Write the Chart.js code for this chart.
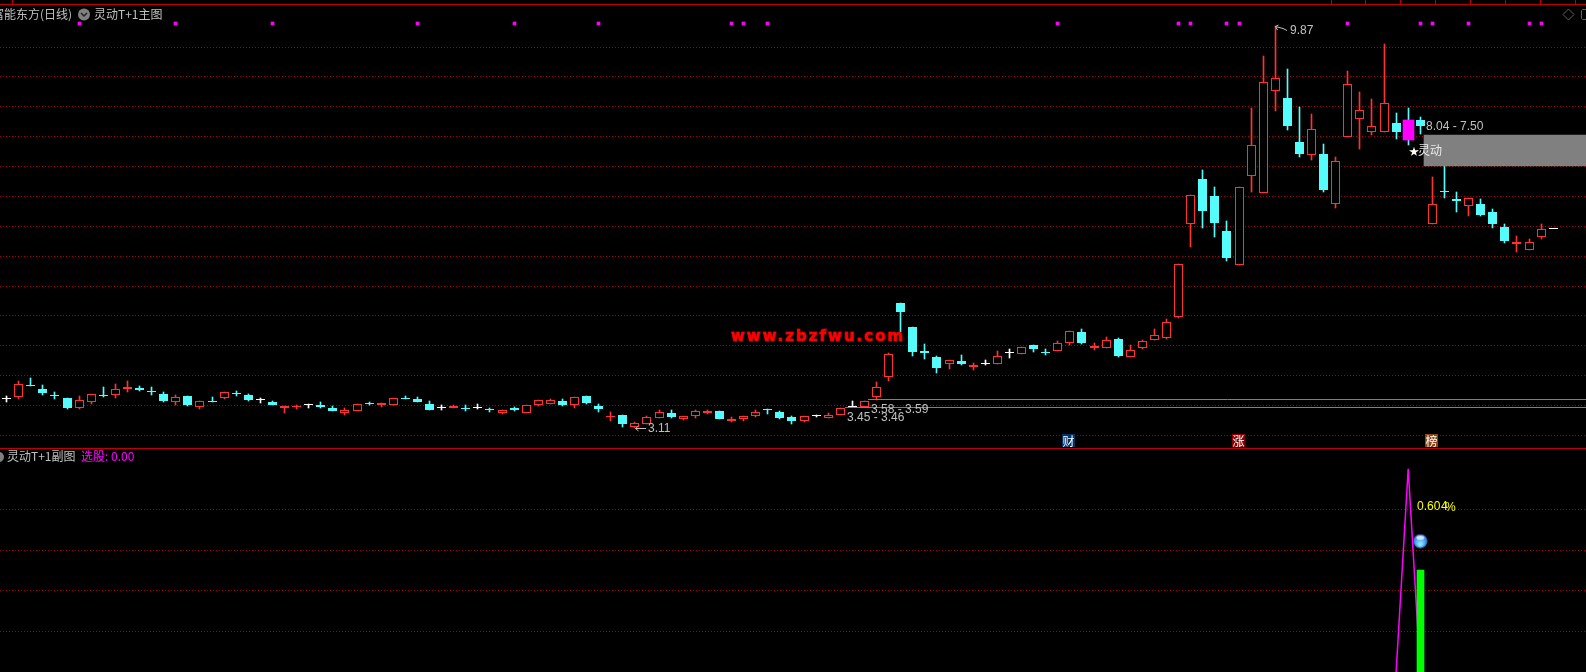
<!DOCTYPE html>
<html>
<head>
<meta charset="utf-8">
<title>灵动T+1</title>
<script src="https://cdn.jsdelivr.net/npm/chart.js@4"></script>
<style>
    html, body { margin: 0; background: #000; overflow: hidden; }
    canvas { display: block; }
</style>
</head>
<body>
<canvas id="kline" width="1586" height="672"></canvas>
<script>
// daily candles
const opens = [3.60,3.64,3.83,3.77,3.67,3.62,3.44,3.54,3.67,3.66,3.77,3.78,3.72,3.68,3.55,3.65,3.47,3.56,3.62,3.70,3.67,3.58,3.55,3.45,3.46,3.49,3.49,3.45,3.37,3.39,3.52,3.50,3.49,3.62,3.60,3.51,3.45,3.45,3.45,3.44,3.42,3.37,3.44,3.37,3.50,3.52,3.56,3.49,3.65,3.48,3.30,3.33,3.12,3.18,3.28,3.36,3.27,3.32,3.37,3.40,3.23,3.27,3.32,3.42,3.38,3.30,3.23,3.31,3.28,3.33,3.46,3.47,3.64,3.97,5.21,4.81,4.41,4.31,4.18,4.24,4.14,4.18,4.18,4.37,4.35,4.51,4.39,4.41,4.55,4.73,4.46,4.46,4.61,4.31,4.46,4.60,4.63,4.98,6.54,7.30,7.02,6.42,5.85,7.36,7.06,8.78,8.67,7.92,7.71,7.72,6.88,8.01,8.31,8.10,8.10,8.24,8.29,8.29,6.55,7.10,6.96,6.84,6.88,6.74,6.50,6.21,6.11,6.32,6.46];
const highs = [3.65,3.90,3.95,3.83,3.72,3.62,3.65,3.68,3.80,3.85,3.90,3.82,3.80,3.71,3.67,3.65,3.57,3.63,3.71,3.73,3.68,3.61,3.56,3.48,3.50,3.52,3.55,3.48,3.45,3.51,3.55,3.53,3.61,3.65,3.63,3.56,3.49,3.49,3.50,3.51,3.45,3.42,3.47,3.49,3.59,3.60,3.60,3.64,3.65,3.51,3.38,3.33,3.21,3.31,3.41,3.41,3.32,3.41,3.41,3.40,3.29,3.32,3.42,3.43,3.40,3.31,3.32,3.33,3.36,3.45,3.56,3.56,3.88,4.37,5.21,4.81,4.52,4.32,4.25,4.34,4.20,4.25,4.41,4.44,4.47,4.51,4.44,4.57,4.74,4.77,4.54,4.64,4.63,4.50,4.59,4.77,4.95,5.87,7.04,7.45,7.17,6.60,7.16,8.50,9.38,9.87,9.15,8.51,8.40,7.89,7.67,9.12,8.76,8.65,9.57,8.41,8.50,8.35,7.34,7.52,7.08,6.98,6.96,6.79,6.54,6.34,6.29,6.54,6.46];
const lows = [3.55,3.60,3.81,3.67,3.60,3.43,3.43,3.51,3.64,3.62,3.72,3.74,3.67,3.55,3.50,3.48,3.43,3.54,3.60,3.65,3.57,3.53,3.50,3.36,3.43,3.45,3.45,3.40,3.33,3.39,3.49,3.46,3.49,3.60,3.55,3.41,3.41,3.45,3.39,3.43,3.38,3.35,3.39,3.37,3.48,3.51,3.48,3.45,3.51,3.38,3.23,3.13,3.11,3.18,3.28,3.28,3.25,3.28,3.35,3.26,3.22,3.23,3.30,3.35,3.26,3.18,3.21,3.30,3.28,3.33,3.46,3.47,3.59,3.91,4.72,4.32,4.27,4.04,4.10,4.17,4.09,4.17,4.18,4.29,4.35,4.39,4.34,4.41,4.50,4.53,4.42,4.46,4.31,4.31,4.44,4.60,4.61,4.96,6.16,6.48,6.33,5.93,5.85,7.08,7.06,8.44,8.12,7.68,7.63,7.09,6.82,8.01,7.80,8.05,8.10,7.98,7.88,8.06,6.55,6.99,6.74,6.68,6.68,6.48,6.22,6.08,6.11,6.29,6.46];
const closes = [3.60,3.85,3.82,3.70,3.65,3.45,3.59,3.68,3.65,3.76,3.80,3.75,3.71,3.56,3.64,3.50,3.56,3.55,3.71,3.69,3.58,3.58,3.50,3.48,3.48,3.49,3.46,3.40,3.41,3.51,3.51,3.53,3.61,3.60,3.55,3.41,3.45,3.48,3.43,3.44,3.41,3.42,3.42,3.49,3.59,3.58,3.50,3.64,3.53,3.43,3.32,3.18,3.19,3.29,3.38,3.30,3.32,3.40,3.40,3.26,3.27,3.32,3.38,3.41,3.28,3.23,3.32,3.31,3.33,3.45,3.46,3.56,3.80,4.35,5.07,4.39,4.38,4.12,4.25,4.19,4.17,4.18,4.33,4.37,4.47,4.44,4.38,4.55,4.74,4.54,4.49,4.60,4.32,4.43,4.57,4.67,4.89,5.87,7.04,6.77,6.57,5.98,7.16,7.87,8.93,9.01,8.20,7.73,8.15,7.12,7.60,8.90,8.46,8.19,8.59,8.10,7.96,8.20,6.88,7.08,6.94,6.98,6.69,6.55,6.26,6.24,6.25,6.46,6.46];

const signalDays = [6,14,22,34,42,49,60,61,63,87,97,98,101,102,111,117,118,121,126,127];
const signalBand = [9.895, 9.946];
const starDay = 116;

// price levels marked on the chart
const supportHigh = [3.59, 71.3];
const supportLow = [3.46, 69.4];
const zoneBand = [7.52, 8.04];
const zoneDay = 124;
const gridPrices = [2.99,3.49,3.99,4.50,5.00,5.50,6.00,6.51,7.01,7.51,8.01,8.52,9.02,9.52];

// lower pane
const pickDays = [115,116,117];
const pickValues = [0,1,0];
const volDay = 117;
const volValue = 0.5;
const ballDay = 117;
const ballValue = 0.644;
const lowerGrid = [0.2,0.4,0.6,0.8];

const RED = '#FF3232';
const CYAN = '#54FCFC';
const WHITE = '#FFFFFF';
const MAGENTA = '#FF00FF';
const LINE_RED = '#C00000';
const TEXT = '#C0C0C0';
const LATIN = '"Liberation Sans", sans-serif';
const CJK = '"Noto Sans CJK SC", sans-serif';

const days = opens.map((_, i) => i);
const candleColor = days.map(i => closes[i] > opens[i] ? RED : closes[i] < opens[i] ? CYAN : WHITE);
const candleFill = days.map(i => closes[i] > opens[i] ? '#000000' : candleColor[i]);

// round sphere used as the point image in the lower pane
function makeBall() {
    const c = document.createElement('canvas');
    c.width = 15; c.height = 15;
    const g = c.getContext('2d');
    const body = g.createRadialGradient(7.5, 11, 1, 7.5, 7.5, 7.5);
    body.addColorStop(0, '#8FE8FF');
    body.addColorStop(0.55, '#4FA6F0');
    body.addColorStop(1, '#2A62C8');
    g.fillStyle = body;
    g.beginPath(); g.arc(7.5, 7.5, 7, 0, Math.PI * 2); g.fill();
    g.fillStyle = 'rgba(235,245,255,0.85)';
    g.beginPath(); g.ellipse(7.5, 4, 4, 2, 0, 0, Math.PI * 2); g.fill();
    return c;
}

// bars and level lines land on whole pixels, like the terminal draws them
const snapPlugin = {
    id: 'snap',
    afterDatasetsUpdate(chart) {
        chart.getSortedVisibleDatasetMetas().forEach(meta => {
            meta.data.forEach(el => {
                if (meta.type === 'bar') {
                    el.x = el.width % 2 === 1 ? Math.floor(el.x) + 0.5 : Math.round(el.x);
                    const top = Math.round(el.y);
                    let bottom = Math.round(el.base);
                    if (top === bottom) bottom = top + 1;
                    el.y = top;
                    el.base = bottom;
                } else if (chart.data.datasets[meta.index].snapY) {
                    el.y = Math.floor(el.y) + 0.5;
                }
            });
        });
    }
};

function putText(ctx, str, x, y, color, font) {
    ctx.fillStyle = color;
    ctx.font = font;
    ctx.textAlign = 'left';
    ctx.textBaseline = 'middle';
    ctx.fillText(str, x, y);
}

function tag(ctx, str, x, y, bg) {
    ctx.fillStyle = bg;
    ctx.fillRect(x, y, 13, 13);
    putText(ctx, str, x + 0.5, y + 7, WHITE, '12px ' + CJK);
}

const overlayPlugin = {
    id: 'overlay',
    afterDatasetsDraw(chart) {
        const ctx = chart.ctx;
        const xs = chart.scales.x;
        const ys = chart.scales.y;
        ctx.save();

        // frame lines
        ctx.fillStyle = LINE_RED;
        ctx.fillRect(0, 4, 1586, 1);
        ctx.fillRect(0, 448, 1586, 1);
        [12, 1331, 1365, 1400, 1435, 1470, 1505, 1540, 1575].forEach(x => ctx.fillRect(x, 0, 1, 4));

        // header
        putText(ctx, '富能东方(日线)', -8, 14, TEXT, '12px ' + CJK);
        ctx.fillStyle = '#808080';
        ctx.beginPath(); ctx.arc(84, 14.5, 6, 0, Math.PI * 2); ctx.fill();
        ctx.strokeStyle = '#222222';
        ctx.lineWidth = 1.5;
        ctx.beginPath(); ctx.moveTo(81, 13); ctx.lineTo(84, 16); ctx.lineTo(87, 13); ctx.stroke();
        putText(ctx, '灵动T+1主图', 94, 14, TEXT, '12px ' + CJK);

        // window buttons
        ctx.strokeStyle = '#606060';
        ctx.lineWidth = 1;
        ctx.beginPath();
        ctx.moveTo(1568.5, 9); ctx.lineTo(1574, 14.5); ctx.lineTo(1568.5, 20); ctx.lineTo(1563, 14.5); ctx.closePath();
        ctx.stroke();
        ctx.beginPath();
        ctx.moveTo(1588, 9.5); ctx.lineTo(1582.5, 9.5); ctx.lineTo(1581.5, 10.5); ctx.lineTo(1581.5, 18.5); ctx.lineTo(1582.5, 19.5); ctx.lineTo(1588, 19.5);
        ctx.stroke();

        // lower pane header
        ctx.fillStyle = '#808080';
        ctx.beginPath(); ctx.arc(-1, 457, 5, 0, Math.PI * 2); ctx.fill();
        putText(ctx, '灵动T+1副图', 7, 456, TEXT, '12px ' + CJK);
        putText(ctx, '选股: 0.00', 81, 456, MAGENTA, '12px ' + CJK);

        // high and low arrows
        ctx.strokeStyle = TEXT;
        ctx.lineWidth = 1;
        const hx = Math.round(xs.getPixelForValue(105));
        const hy = Math.round(ys.getPixelForValue(9.87));
        ctx.beginPath();
        ctx.moveTo(hx + 0.5, hy + 0.5); ctx.lineTo(hx + 8, hy + 2.5); ctx.lineTo(hx + 12, hy + 4.5);
        ctx.moveTo(hx + 0.5, hy + 0.5); ctx.lineTo(hx + 3.5, hy - 1);
        ctx.moveTo(hx + 0.5, hy + 0.5); ctx.lineTo(hx + 2.5, hy + 4);
        ctx.stroke();
        putText(ctx, '9.87', hx + 15, hy + 5, TEXT, '12px ' + LATIN);

        const lx = Math.round(xs.getPixelForValue(52));
        const ly = Math.round(ys.getPixelForValue(3.11));
        ctx.beginPath();
        ctx.moveTo(lx + 0.5, ly + 0.5); ctx.lineTo(lx + 11, ly + 0.5);
        ctx.moveTo(lx + 0.5, ly + 0.5); ctx.lineTo(lx + 3.5, ly - 2);
        ctx.moveTo(lx + 0.5, ly + 0.5); ctx.lineTo(lx + 3.5, ly + 3);
        ctx.stroke();
        putText(ctx, '3.11', lx + 13, ly + 1, TEXT, '12px ' + LATIN);

        // level labels
        putText(ctx, '3.58 - 3.59', 871, 410, TEXT, '12px ' + LATIN);
        putText(ctx, '3.45 - 3.46', 847, 418, TEXT, '12px ' + LATIN);
        putText(ctx, '8.04 - 7.50', 1426, 127, TEXT, '12px ' + LATIN);
        putText(ctx, '★', 1409, 151, WHITE, '10px ' + CJK);
        putText(ctx, '灵动', 1418, 150, '#E8E8E8', '12px ' + CJK);

        // source mark
        ctx.letterSpacing = '2px';
        ctx.font = 'bold 15px "DejaVu Sans", sans-serif';
        ctx.textAlign = 'left';
        ctx.textBaseline = 'middle';
        ctx.strokeStyle = '#C00000';
        ctx.lineWidth = 1;
        ctx.strokeText('www.zbzfwu.com', 731, 337);
        putText(ctx, 'www.zbzfwu.com', 731, 337, '#FF0000', 'bold 15px "DejaVu Sans", sans-serif');
        ctx.letterSpacing = '0px';

        // news tags
        tag(ctx, '财', 1062, 434, '#003366');
        tag(ctx, '涨', 1232, 434, '#8B0000');
        tag(ctx, '榜', 1425, 434, '#8B4513');

        // lower pane number
        putText(ctx, '0.60', 1417, 507, '#FFFF00', '12px ' + LATIN);
        putText(ctx, '4', 1441, 507, '#FFFF00', '12px ' + LATIN);
        putText(ctx, '%', 1445, 508, '#FFFF00', '12px ' + LATIN);

        ctx.restore();
    }
};

new Chart(document.getElementById('kline'), {
    data: {
        datasets: [
            {
                type: 'bar',
                label: 'wick',
                order: 5,
                yAxisID: 'y',
                data: days.filter(i => highs[i] > lows[i]).map(i => ({ x: i, y: [lows[i], highs[i]] })),
                backgroundColor: ctx => candleColor[ctx.raw.x],
                barThickness: 1,
                grouped: false,
            },
            {
                type: 'bar',
                label: 'body',
                order: 4,
                yAxisID: 'y',
                data: days.map(i => ({ x: i, y: [opens[i], closes[i]] })),
                backgroundColor: candleFill,
                borderColor: candleColor,
                borderWidth: 1,
                borderSkipped: false,
                inflateAmount: 0,
                barThickness: 9,
                minBarLength: 1,
                grouped: false,
            },
            {
                type: 'bar',
                label: 'star day',
                order: 3,
                yAxisID: 'y',
                data: [{ x: starDay, y: [opens[starDay], closes[starDay]] }],
                backgroundColor: MAGENTA,
                barThickness: 11,
                grouped: false,
            },
            {
                type: 'bar',
                label: 'signal',
                order: 3,
                yAxisID: 'y',
                data: signalDays.map(d => ({ x: d, y: signalBand })),
                backgroundColor: MAGENTA,
                barThickness: 3,
                grouped: false,
            },
            {
                type: 'bar',
                label: 'zone',
                order: 2,
                yAxisID: 'y',
                data: [{ x: zoneDay, y: zoneBand }],
                backgroundColor: '#808080',
                barThickness: 162,
                grouped: false,
            },
            {
                type: 'line',
                label: 'support high',
                order: 2,
                yAxisID: 'y',
                snapY: true,
                data: [{ x: supportHigh[1], y: supportHigh[0] }, { x: 132, y: supportHigh[0] }],
                borderColor: '#808080',
                borderWidth: 1,
                pointRadius: 0,
            },
            {
                type: 'line',
                label: 'support low',
                order: 2,
                yAxisID: 'y',
                snapY: true,
                data: [{ x: supportLow[1], y: supportLow[0] }, { x: 132, y: supportLow[0] }],
                borderColor: '#808080',
                borderWidth: 1,
                pointRadius: 0,
            },
            {
                type: 'line',
                label: '选股',
                order: 3,
                yAxisID: 'y2',
                data: pickDays.map((d, i) => ({ x: d, y: pickValues[i] })),
                borderColor: MAGENTA,
                borderWidth: 1.5,
                pointRadius: 0,
            },
            {
                type: 'bar',
                label: 'vol',
                order: 2,
                yAxisID: 'y2',
                data: [{ x: volDay, y: [0, volValue] }],
                backgroundColor: '#00FF00',
                barThickness: 7,
                grouped: false,
            },
            {
                type: 'line',
                label: 'ball',
                order: 1,
                yAxisID: 'y2',
                showLine: false,
                data: [{ x: ballDay, y: ballValue }],
                pointStyle: makeBall(),
                pointRadius: 7.5,
            },
        ],
    },
    options: {
        responsive: false,
        animation: false,
        layout: { padding: 0, autoPadding: false },
        plugins: {
            legend: { display: false },
            tooltip: { enabled: false },
        },
        scales: {
            x: {
                type: 'linear',
                display: false,
                offset: false,
                min: -6.615 / 12.0826,
                max: 1579.385 / 12.0826,
            },
            y: {
                type: 'linear',
                position: 'left',
                stack: 'panes',
                stackWeight: 448,
                weight: 2,
                min: 10.316 - 448 / 59.4,
                max: 10.316,
                afterBuildTicks: scale => { scale.ticks = gridPrices.map(value => ({ value })); },
                ticks: { display: false },
                grid: { color: '#A80000', drawTicks: false },
                border: { display: false, dash: [1, 2] },
            },
            y2: {
                type: 'linear',
                position: 'left',
                stack: 'panes',
                stackWeight: 224,
                weight: 1,
                min: 0,
                max: 224 / 203.3,
                afterBuildTicks: scale => { scale.ticks = lowerGrid.map(value => ({ value })); },
                ticks: { display: false },
                grid: { color: '#A80000', drawTicks: false },
                border: { display: false, dash: [1, 2] },
            },
        },
    },
    plugins: [snapPlugin, overlayPlugin],
});
</script>
</body>
</html>
